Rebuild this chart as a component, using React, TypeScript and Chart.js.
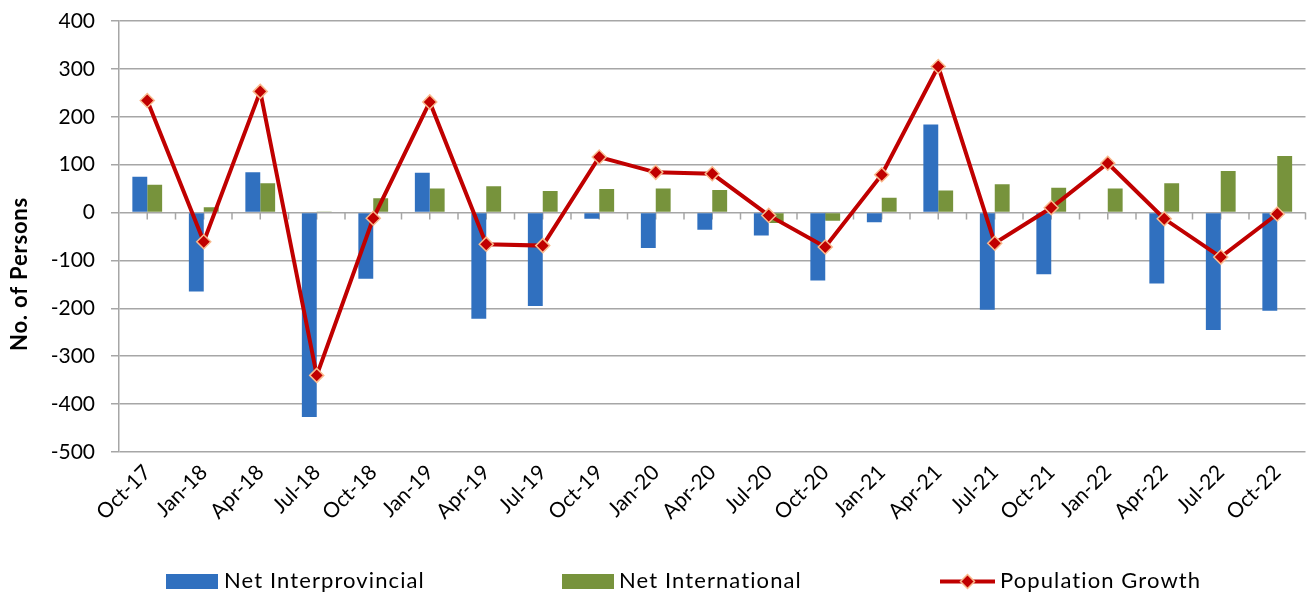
import React, { useEffect, useRef } from 'react';
import { Chart, registerables } from 'chart.js';

Chart.register(...registerables);

const categories = [
  'Oct-17', 'Jan-18', 'Apr-18', 'Jul-18', 'Oct-18', 'Jan-19', 'Apr-19', 'Jul-19',
  'Oct-19', 'Jan-20', 'Apr-20', 'Jul-20', 'Oct-20', 'Jan-21', 'Apr-21', 'Jul-21',
  'Oct-21', 'Jan-22', 'Apr-22', 'Jul-22', 'Oct-22',
];
const netInterprovincial = [75, -165, 84, -427, -138, 83, -222, -195, -13, -74, -36, -48, -142, -20, 184, -203, -129, 0, -148, -245, -205];
const netInternational = [58, 11, 61, 2, 30, 50, 55, 45, 49, 50, 47, -22, -17, 31, 46, 59, 52, 50, 61, 87, 118];
const populationGrowth = [234, -61, 253, -340, -12, 231, -66, -69, 116, 84, 81, -6, -72, 79, 305, -64, 10, 103, -13, -93, -3];
const yMin = -500;
const yMax = 400;
const yStep = 100;
const seriesNames = ['Net Interprovincial', 'Net International', 'Population Growth'];
const yTitle = 'No. of Persons';

const BLUE = '#3070BF';
const GREEN = '#77933C';
const RED = '#C00000';
const MARKER_EDGE = '#F9B98C';
const GRID = '#A6A6A6';
const FONT = 'Lato, "Liberation Sans", sans-serif';

export default function App() {
  const ref = useRef<HTMLCanvasElement>(null);

  useEffect(() => {
    const canvas = ref.current;
    if (!canvas) return;

    const extras = {
      id: 'extras',
      beforeDatasetsDraw(chart: any) {
        const ctx = chart.ctx;
        const xs = chart.scales.x;
        const ys = chart.scales.y;
        const y0 = ys.getPixelForValue(0);
        const half = (xs.getPixelForValue(1) - xs.getPixelForValue(0)) / 2;
        ctx.save();
        ctx.strokeStyle = GRID;
        ctx.lineWidth = 1.5;
        ctx.beginPath();
        for (let i = 0; i < categories.length; i++) {
          const c = xs.getPixelForValue(i);
          ctx.moveTo(c, y0);
          ctx.lineTo(c, y0 + 7);
          ctx.moveTo(c + half, y0);
          ctx.lineTo(c + half, y0 + 7);
        }
        ctx.stroke();
        ctx.restore();
      },
      afterDraw(chart: any) {
        const ctx = chart.ctx;
        ctx.save();
        // y axis title
        ctx.translate(20, 274);
        ctx.rotate(-Math.PI / 2);
        ctx.fillStyle = '#000';
        ctx.font = `bold 22px ${FONT}`;
        (ctx as any).letterSpacing = '0.8px';
        ctx.textAlign = 'center';
        ctx.textBaseline = 'middle';
        ctx.fillText(yTitle, 0, 0);
        ctx.restore();

        // legend
        ctx.save();
        ctx.font = `22px ${FONT}`;
        (ctx as any).letterSpacing = '1.1px';
        ctx.fillStyle = '#000';
        ctx.textBaseline = 'alphabetic';
        ctx.textAlign = 'left';
        const ly = 581.5;
        ctx.fillStyle = BLUE;
        ctx.fillRect(166, 574, 52, 15);
        ctx.fillStyle = '#000';
        ctx.fillText(seriesNames[0], 224, 588);
        ctx.fillStyle = GREEN;
        ctx.fillRect(562, 574, 52, 15);
        ctx.fillStyle = '#000';
        ctx.fillText(seriesNames[1], 619, 588);
        ctx.strokeStyle = RED;
        ctx.lineWidth = 4;
        ctx.beginPath();
        ctx.moveTo(940, ly);
        ctx.lineTo(995, ly);
        ctx.stroke();
        const cx = 967.5;
        const r = 7;
        ctx.beginPath();
        ctx.moveTo(cx, ly - r);
        ctx.lineTo(cx + r, ly);
        ctx.lineTo(cx, ly + r);
        ctx.lineTo(cx - r, ly);
        ctx.closePath();
        ctx.fillStyle = RED;
        ctx.fill();
        ctx.strokeStyle = MARKER_EDGE;
        ctx.lineWidth = 1.5;
        ctx.stroke();
        ctx.fillStyle = '#000';
        ctx.fillText(seriesNames[2], 1000, 588);
        ctx.restore();
      },
    };

    const chart = new Chart(canvas, {
      type: 'bar',
      data: {
        labels: categories,
        datasets: [
          {
            type: 'line',
            label: seriesNames[2],
            data: populationGrowth,
            borderColor: RED,
            borderWidth: 4,
            backgroundColor: RED,
            pointStyle: 'rectRot',
            pointRadius: 7,
            pointBackgroundColor: RED,
            pointBorderColor: MARKER_EDGE,
            pointBorderWidth: 1.5,
            tension: 0,
            order: 0,
          } as any,
          {
            type: 'bar',
            label: seriesNames[0],
            data: netInterprovincial,
            backgroundColor: BLUE,
            borderWidth: 0,
            categoryPercentage: 0.527,
            barPercentage: 1,
            order: 1,
          },
          {
            type: 'bar',
            label: seriesNames[1],
            data: netInternational,
            backgroundColor: GREEN,
            borderWidth: 0,
            categoryPercentage: 0.527,
            barPercentage: 1,
            order: 2,
          },
        ],
      },
      options: {
        responsive: false,
        animation: false,
        layout: { padding: { top: 21, right: 1, bottom: 0, left: 0 } },
        plugins: {
          legend: { display: false },
          tooltip: { enabled: false },
        },
        scales: {
          x: {
            type: 'category',
            offset: true,
            grid: { display: false, drawTicks: false, tickLength: 0 },
            border: { display: false },
            ticks: {
              autoSkip: false,
              maxRotation: 45,
              minRotation: 45,
              padding: 8,
              color: '#000',
              font: { family: FONT, size: 21 },
            },
            afterFit: (s: any) => {
              s.height = 142;
            },
          },
          y: {
            min: yMin,
            max: yMax,
            ticks: {
              stepSize: yStep,
              padding: 16,
              color: '#000',
              font: { family: FONT, size: 21, lineHeight: 0.4 },
            },
            grid: { color: GRID, lineWidth: 1.5, tickLength: 8, tickColor: GRID },
            border: { display: true, color: GRID, width: 1.5 },
            afterFit: (s: any) => {
              s.width = 119;
            },
          },
        },
      },
      plugins: [extras],
    });

    return () => chart.destroy();
  }, []);

  return (
    <div style={{ position: 'absolute', left: 0, top: 0, width: 1309, height: 594, overflow: 'hidden', background: '#fff' }}>
      <canvas ref={ref} width={1314} height={594} style={{ display: 'block' }} />
    </div>
  );
}
